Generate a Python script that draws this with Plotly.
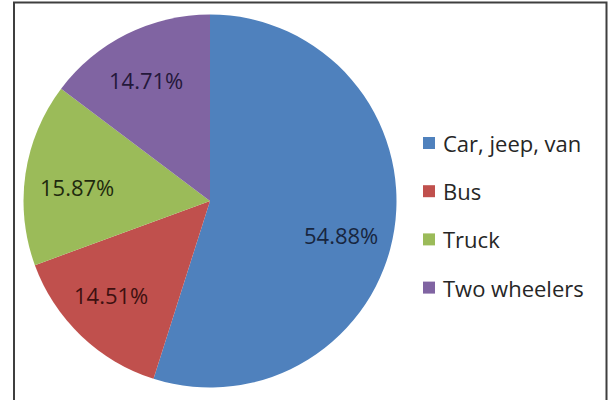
import math
import plotly.graph_objects as go

# Vehicle share by type
categories = ["Car, jeep, van", "Bus", "Truck", "Two wheelers"]
shares = [54.88, 14.51, 15.87, 14.71]
colors = ["#4F81BD", "#C0504D", "#9BBB59", "#8064A2"]
label_colors = ["#18263f", "#3e1010", "#1f2a0e", "#24183a"]

W, H = 609, 400
FONT = "Open Sans"

# Pie geometry in pixels
cx, cy, R = 210.0, 201.0, 186.5

# Small pixel nudges for the percentage labels (dx, dy)
label_nudge = [(-3, 13), (-5, -4), (1, 6), (-4, 0)]

fig = go.Figure()
fig.add_trace(go.Pie(
    labels=categories,
    values=shares,
    sort=False,
    direction="clockwise",
    rotation=0,
    marker=dict(colors=colors, line=dict(width=0)),
    textinfo="none",
    hoverinfo="label+percent",
    showlegend=False,
    domain=dict(x=[(cx - R) / W, (cx + R) / W],
                y=[1 - (cy + R) / H, 1 - (cy - R) / H]),
))

annotations = []
shapes = []

# Percentage labels placed along each slice's bisector
total = sum(shares)
start = 0.0
for val, col, (ndx, ndy) in zip(shares, label_colors, label_nudge):
    span = val / total * 360.0
    mid = math.radians(start + span / 2)
    start += span
    r = 0.725 * R
    px = cx + r * math.sin(mid) + ndx
    py = cy - r * math.cos(mid) + ndy
    annotations.append(dict(
        x=px / W, y=1 - py / H, xref="paper", yref="paper",
        text=f"{val:.2f}%", showarrow=False,
        font=dict(family=FONT, size=22, color=col),
        xanchor="center", yanchor="middle",
    ))

# Legend: colour squares and category names
leg_x0, leg_y0, leg_dy, sq = 423, 143, 48.2, 12
for i, (name, col) in enumerate(zip(categories, colors)):
    yc = leg_y0 + i * leg_dy
    shapes.append(dict(
        type="rect", xref="paper", yref="paper",
        x0=leg_x0 / W, x1=(leg_x0 + sq) / W,
        y0=1 - (yc + sq / 2) / H, y1=1 - (yc - sq / 2) / H,
        fillcolor=col, line=dict(width=0),
    ))
    annotations.append(dict(
        x=(leg_x0 + sq + 6) / W, y=1 - yc / H, xref="paper", yref="paper",
        text=name, showarrow=False,
        font=dict(family=FONT, size=22, color="#262626"),
        xanchor="left", yanchor="middle",
    ))

# Chart frame
shapes.append(dict(
    type="rect", xref="paper", yref="paper",
    x0=14 / W, x1=606.5 / W, y0=-0.05, y1=1 - 2.5 / H,
    line=dict(color="#3f3f3f", width=2), fillcolor="rgba(0,0,0,0)",
    layer="above",
))

fig.update_layout(
    width=W, height=H,
    margin=dict(l=0, r=0, t=0, b=0),
    paper_bgcolor="white",
    plot_bgcolor="white",
    annotations=annotations,
    shapes=shapes,
)

fig.write_html("out.html")
